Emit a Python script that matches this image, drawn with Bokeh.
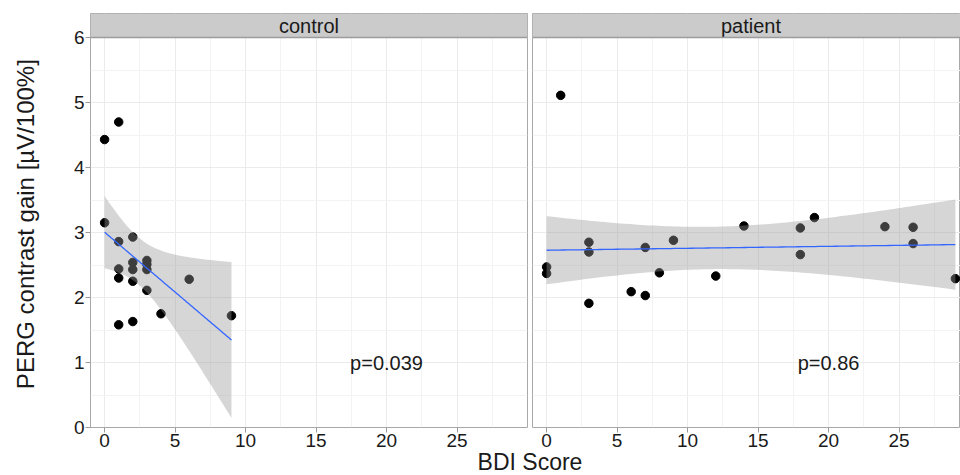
import numpy as np
from bokeh.plotting import figure
from bokeh.models import Range1d, FixedTicker, Span
from bokeh.layouts import row, column
from bokeh.embed import file_html
from bokeh.resources import INLINE
from bokeh.core.properties import value

# ---------------- data ----------------
control_bdi = [0, 1, 0, 1, 2, 1, 2, 2, 3, 3, 3, 1, 2, 3, 6, 4, 9, 1, 2]
control_perg = [4.43, 4.70, 3.15, 2.86, 2.93, 2.44, 2.54, 2.43, 2.57, 2.51,
                2.43, 2.30, 2.25, 2.11, 2.28, 1.75, 1.72, 1.58, 1.63]
patient_bdi = [1, 3, 9, 14, 18, 19, 24, 26, 3, 7, 18, 26, 0, 0, 8, 12, 29, 6, 7, 3]
patient_perg = [5.11, 2.85, 2.88, 3.10, 3.07, 3.23, 3.09, 3.08, 2.70, 2.77,
                2.66, 2.83, 2.47, 2.37, 2.38, 2.33, 2.29, 2.09, 2.03, 1.91]
facet_labels = ["control", "patient"]
p_labels = ["p=0.039", "p=0.86"]
x_ticks = [0, 5, 10, 15, 20, 25]
x_minor = [2.5, 7.5, 12.5, 17.5, 22.5, 27.5]
y_ticks = [0, 1, 2, 3, 4, 5, 6]
y_minor = [0.5, 1.5, 2.5, 3.5, 4.5, 5.5]
t975 = [2.1098, 2.1009]  # Student t 0.975 quantiles for df = n - 2
x_label = "BDI Score"
y_label = "PERG contrast gain [µV/100%]"

# ---------------- layout constants ----------------
FONT = "Liberation Sans"
TXT = "#1a1a1a"
X_LIM = (-1, 30)
PANEL_W = 437
PX_PER_X = PANEL_W / (X_LIM[1] - X_LIM[0])
STRIP_PX = 24
PANEL_PX = 390
PX_PER_Y = PANEL_PX / 6.0
Y_TOP = 6 + STRIP_PX / PX_PER_Y
TOTAL_W = 960
YLAB_W = 45
LEFT_MARGIN = 45
GAP_L, GAP_R = 2, 3
TOP = 13
BOTTOM = 29
H1 = TOP + STRIP_PX + PANEL_PX + BOTTOM
OVERLAP = 10
H2 = 475 - H1 + OVERLAP
left_w = LEFT_MARGIN + PANEL_W + GAP_L
right_w = TOTAL_W - YLAB_W - left_w
right_frame = right_w - GAP_R
x_end_right = X_LIM[0] + right_frame / PX_PER_X
P_POS = (20, 1)


def lm_band(x, y, t, num=100):
    x = np.asarray(x, float)
    y = np.asarray(y, float)
    n = len(x)
    xm, ym = x.mean(), y.mean()
    sxx = ((x - xm) ** 2).sum()
    b = ((x - xm) * (y - ym)).sum() / sxx
    a = ym - b * xm
    s = np.sqrt(((y - a - b * x) ** 2).sum() / (n - 2))
    xs = np.linspace(x.min(), x.max(), num)
    fit = a + b * xs
    se = s * np.sqrt(1.0 / n + (xs - xm) ** 2 / sxx)
    return xs, fit, fit - t * se, fit + t * se


def blank_fig(width, height, transparent=False):
    f = figure(width=width, height=height, x_range=Range1d(0, width), y_range=Range1d(0, height),
               output_backend="svg", toolbar_location=None, min_border=0,
               x_axis_location=None, y_axis_location=None)
    f.outline_line_color = None
    f.xgrid.visible = False
    f.ygrid.visible = False
    f.background_fill_color = "white"
    f.border_fill_color = "white"
    if transparent:
        f.background_fill_alpha = 0
        f.border_fill_alpha = 0
    return f


def make_panel(idx, xv, yv, width, x_end, min_left, min_right, show_y):
    p = figure(width=width, height=H1,
               x_range=Range1d(X_LIM[0], x_end), y_range=Range1d(0, Y_TOP),
               output_backend="svg", toolbar_location=None,
               min_border_left=min_left, min_border_right=min_right,
               min_border_top=TOP, min_border_bottom=BOTTOM,
               y_axis_location="left" if show_y else None)
    p.background_fill_color = "white"
    p.border_fill_color = "white"
    p.outline_line_color = "#a8a8a8"
    p.outline_line_width = 1

    xt = FixedTicker(ticks=x_ticks, minor_ticks=x_minor)
    yt = FixedTicker(ticks=y_ticks, minor_ticks=y_minor)
    p.xaxis.ticker = xt
    p.xgrid.ticker = xt
    p.ygrid.ticker = yt
    for g in (p.xgrid, p.ygrid):
        g.grid_line_color = "#ebebeb"
        g.grid_line_width = 1
        g.minor_grid_line_color = "#f3f3f3"
        g.minor_grid_line_width = 1

    axes = [p.xaxis[0]]
    if show_y:
        p.yaxis.ticker = yt
        axes.append(p.yaxis[0])
    for ax in axes:
        ax.axis_line_color = None
        ax.major_tick_line_color = "#9a9a9a"
        ax.major_tick_out = 5
        ax.major_tick_in = 0
        ax.minor_tick_line_color = None
        ax.major_label_text_font = FONT
        ax.major_label_text_font_size = "19px"
        ax.major_label_text_color = TXT
        ax.major_label_standoff = 1

    # data points (drawn first, ribbon covers them like ggplot)
    p.scatter(xv, yv, size=8.5, fill_color="black", line_color="black")

    xs, fit, lo, hi = lm_band(xv, yv, t975[idx])
    p.varea(x=xs, y1=lo, y2=hi, fill_color="#999999", fill_alpha=0.4)
    p.line(xs, fit, line_color="#3366FF", line_width=1.3)

    # facet strip
    p.quad(left=[X_LIM[0]], right=[X_LIM[1]], bottom=[6], top=[Y_TOP],
           fill_color="#cbcbcb", line_color=None)
    p.add_layout(Span(location=6, dimension="width", line_color="#9c9c9c", line_width=1.5))
    p.text(x=[(X_LIM[0] + X_LIM[1]) / 2], y=[(6 + Y_TOP) / 2], text=[facet_labels[idx]],
           text_font=value(FONT), text_font_size="20px", text_color=TXT,
           text_align="center", text_baseline="middle")

    # p-value annotation
    p.text(x=[P_POS[0]], y=[P_POS[1]], text=[p_labels[idx]],
           text_font=value(FONT), text_font_size="20px", text_color=TXT,
           text_align="center", text_baseline="middle")
    return p


left = make_panel(0, control_bdi, control_perg, left_w, X_LIM[1], LEFT_MARGIN, GAP_L, True)
right = make_panel(1, patient_bdi, patient_perg, right_w, x_end_right, GAP_R, 0, False)

# y-axis title in its own narrow canvas, centred on the panel area
ylab = blank_fig(YLAB_W, H1)
ylab.text(x=[25], y=[H1 - (TOP + STRIP_PX + PANEL_PX / 2)], text=[y_label], angle=np.pi / 2,
          text_font=value(FONT), text_font_size="24px", text_color=TXT,
          text_align="center", text_baseline="middle")

# shared x-axis title centred across both facets; transparent canvas that
# slightly overlaps the empty bottom of the panels so the text box fits
xlab = blank_fig(TOTAL_W, H2, transparent=True)
xlab.margin = (-OVERLAP, 0, 0, 0)
xlab.text(x=[YLAB_W + LEFT_MARGIN + PANEL_W + (GAP_L + GAP_R) / 2], y=[13.5], text=[x_label],
          text_font=value(FONT), text_font_size="23px", text_color=TXT,
          text_align="center", text_baseline="middle")

layout = column(row(ylab, left, right), xlab)
open("out.html", "w").write(file_html(layout, INLINE))
